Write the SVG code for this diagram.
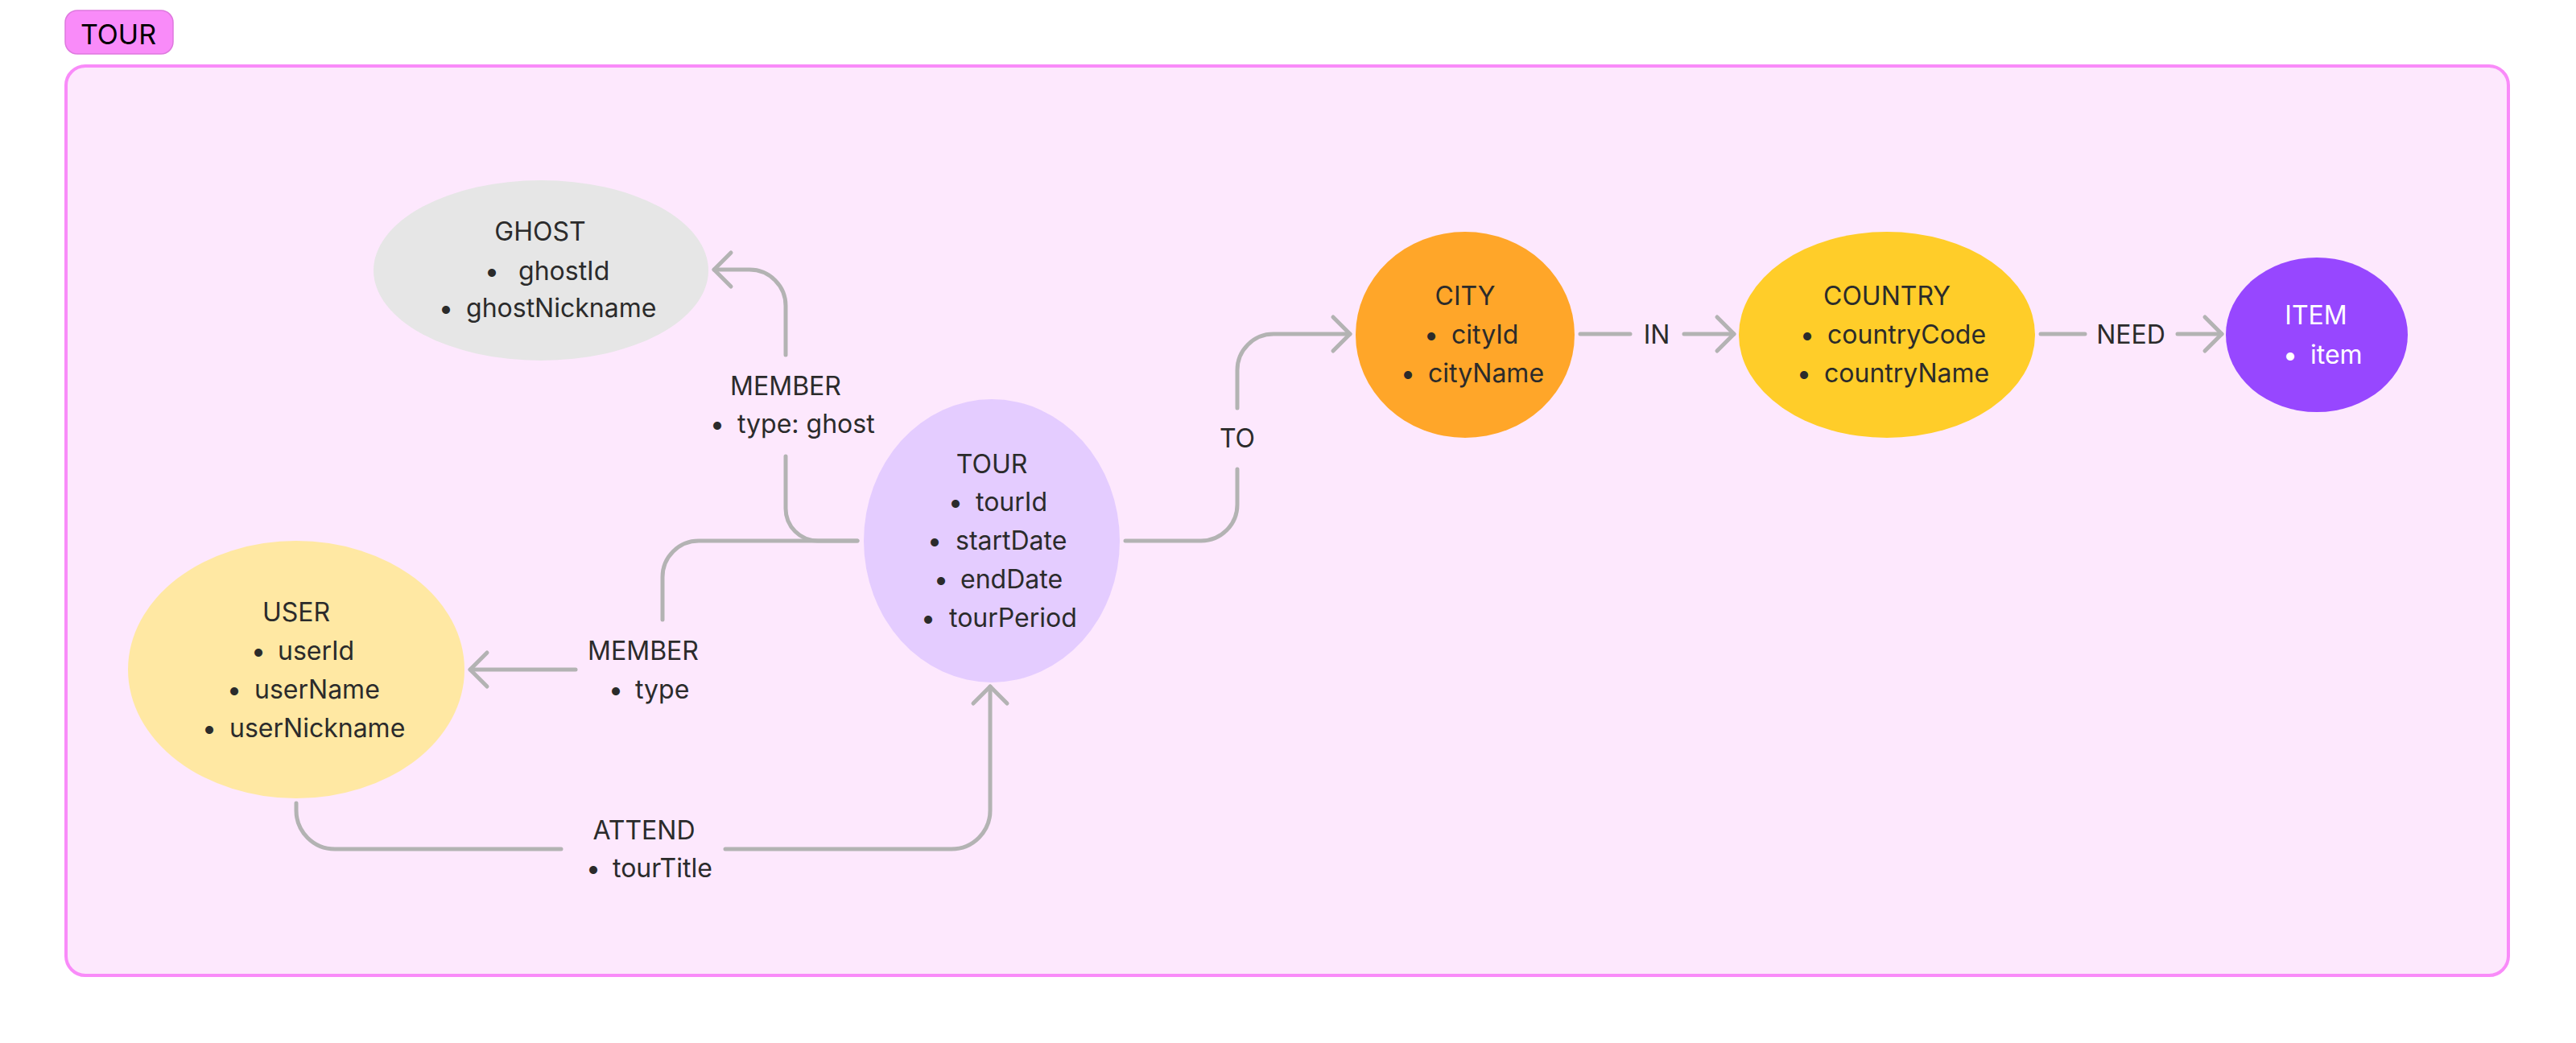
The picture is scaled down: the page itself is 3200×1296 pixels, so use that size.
<svg xmlns="http://www.w3.org/2000/svg" width="3200" height="1296" viewBox="0 0 3200 1296">
<style>
text{font-family:Inter,"Noto Sans","Liberation Sans",sans-serif;font-size:32px;fill:#2b2b2b}
.t{text-anchor:middle}
.b{text-anchor:middle}
.w{fill:#ffffff}
.c{fill:none;stroke:#b3b3b3;stroke-width:5;stroke-linecap:round;stroke-linejoin:round}
</style>
<defs>
<marker id="arr" markerUnits="userSpaceOnUse" viewBox="-30 -30 40 60" refX="0" refY="0" markerWidth="40" markerHeight="60" orient="auto" overflow="visible">
<path d="M-21,-21 L0,0 L-21,21" fill="none" stroke="#b3b3b3" stroke-width="5" stroke-linecap="round" stroke-linejoin="round"/>
</marker>
</defs>
<rect width="3200" height="1296" fill="#ffffff"/>
<g id="section">
<rect x="82" y="82" width="3034" height="1130" rx="24" fill="#fde8fd" stroke="#f98bf9" stroke-width="4"/>
<rect x="81" y="13" width="134" height="54" rx="15" fill="#f98bf9" stroke="#de78de" stroke-width="1.5"/>
<text x="147" y="55" style="font-size:34px;fill:#000000" class="t">TOUR</text>
</g>
<g id="connectors">
<path class="c" d="M1065,672 L1016,672 A40,40 0 0 1 976,632 L976,567"/>
<path class="c" d="M976,441 L976,380 A45,45 0 0 0 931,335 L887,335" marker-end="url(#arr)"/>
<path class="c" d="M1065,672 L868,672 A45,45 0 0 0 823,717 L823,770"/>
<path class="c" d="M715,832 L584,832" marker-end="url(#arr)"/>
<path class="c" d="M368,998 L368,1007 A48,48 0 0 0 416,1055 L697,1055"/>
<path class="c" d="M901,1055 L1182,1055 A48,48 0 0 0 1230,1007 L1230,853" marker-end="url(#arr)"/>
<path class="c" d="M1398,672 L1492,672 A45,45 0 0 0 1537,627 L1537,583"/>
<path class="c" d="M1537,507 L1537,460 A45,45 0 0 1 1582,415 L1677,415" marker-end="url(#arr)"/>
<path class="c" d="M1963,415 L2025,415"/>
<path class="c" d="M2092,415 L2154,415" marker-end="url(#arr)"/>
<path class="c" d="M2535,415 L2590,415"/>
<path class="c" d="M2705,415 L2760,415" marker-end="url(#arr)"/>
<text class="t" x="976" y="491">MEMBER</text>
<text y="538"><tspan class="b" x="891">•</tspan><tspan x="916">type: ghost</tspan></text>
<text class="t" x="799" y="820">MEMBER</text>
<text y="868"><tspan class="b" x="765">•</tspan><tspan x="789">type</tspan></text>
<text class="t" x="800" y="1043">ATTEND</text>
<text y="1090"><tspan class="b" x="737">•</tspan><tspan x="761">tourTitle</tspan></text>
<text class="t" x="1537" y="556">TO</text>
<text class="t" x="2058" y="427">IN</text>
<text class="t" x="2647" y="427">NEED</text>
</g>
<g id="ghost">
<ellipse cx="672" cy="336" rx="208" ry="112" fill="#e6e6e6"/>
<text class="t" x="671" y="299">GHOST</text>
<text y="348"><tspan class="b" x="611">•</tspan><tspan x="644">ghostId</tspan></text>
<text y="394"><tspan class="b" x="554">•</tspan><tspan x="579">ghostNickname</tspan></text>
</g>
<g id="user">
<ellipse cx="368" cy="832" rx="209" ry="160" fill="#ffe8a3"/>
<text class="t" x="368" y="772">USER</text>
<text y="820"><tspan class="b" x="321">•</tspan><tspan x="345">userId</tspan></text>
<text y="868"><tspan class="b" x="291">•</tspan><tspan x="316">userName</tspan></text>
<text y="916"><tspan class="b" x="260">•</tspan><tspan x="285">userNickname</tspan></text>
</g>
<g id="tour">
<ellipse cx="1232" cy="672" rx="159" ry="176" fill="#e4ccff"/>
<text class="t" x="1232" y="588">TOUR</text>
<text y="635"><tspan class="b" x="1187">•</tspan><tspan x="1212">tourId</tspan></text>
<text y="683"><tspan class="b" x="1161">•</tspan><tspan x="1187">startDate</tspan></text>
<text y="731"><tspan class="b" x="1169">•</tspan><tspan x="1193">endDate</tspan></text>
<text y="779"><tspan class="b" x="1153">•</tspan><tspan x="1179">tourPeriod</tspan></text>
</g>
<g id="city">
<ellipse cx="1820" cy="416" rx="136" ry="128" fill="#ffa629"/>
<text class="t" x="1820" y="379">CITY</text>
<text y="427"><tspan class="b" x="1778">•</tspan><tspan x="1803">cityId</tspan></text>
<text y="475"><tspan class="b" x="1749">•</tspan><tspan x="1774">cityName</tspan></text>
</g>
<g id="country">
<ellipse cx="2344" cy="416" rx="184" ry="128" fill="#ffcd29"/>
<text class="t" x="2344" y="379">COUNTRY</text>
<text y="427"><tspan class="b" x="2245">•</tspan><tspan x="2270">countryCode</tspan></text>
<text y="475"><tspan class="b" x="2241">•</tspan><tspan x="2266">countryName</tspan></text>
</g>
<g id="item">
<ellipse cx="2878" cy="416" rx="113" ry="96" fill="#9747ff"/>
<text class="t w" x="2877" y="403">ITEM</text>
<text class="w" y="452"><tspan class="b" x="2845">•</tspan><tspan x="2870">item</tspan></text>
</g>
</svg>
